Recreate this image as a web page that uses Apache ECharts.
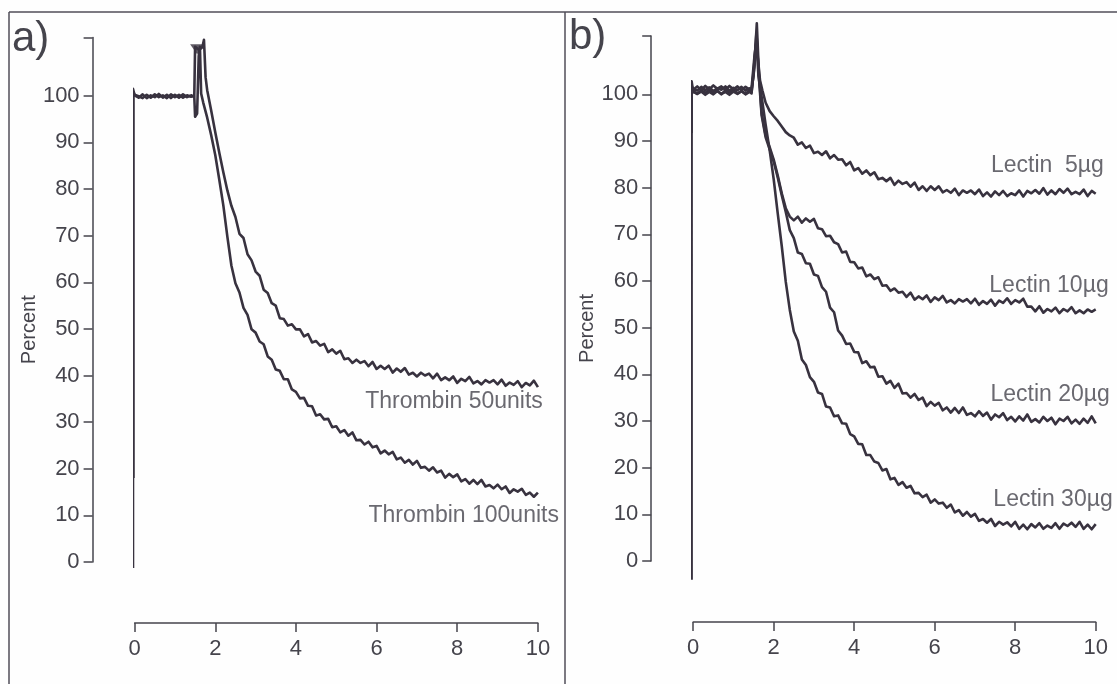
<!DOCTYPE html>
<html><head><meta charset="utf-8">
<script src="https://cdn.jsdelivr.net/npm/echarts@6/dist/echarts.min.js"></script>
<style>html,body{margin:0;padding:0;background:#fefefe}#c{width:1117px;height:684px}</style>
</head><body><div id="c"></div>
<script>
// ---- axis ticks ----
const xTickInterval = 2;
const yTickLabels = [0,10,20,30,40,50,60,70,80,90,100];
const yTickMarks = [0,10,20,30,40,50,60,70,80,90,100,112.5];

// ---- shared sampling times for the decay tails (minutes) ----
const timeTail = [2.5,2.6,2.7,2.8,2.9,3.0,3.1,3.2,3.3,3.4,3.5,3.6,3.7,3.8,3.9,4.0,4.1,4.2,4.3,4.4,4.5,4.6,4.7,4.8,4.9,5.0,5.1,5.2,5.3,5.4,5.5,5.6,5.7,5.8,5.9,6.0,6.1,6.2,6.3,6.4,6.5,6.6,6.7,6.8,6.9,7.0,7.1,7.2,7.3,7.4,7.5,7.6,7.7,7.8,7.9,8.0,8.1,8.2,8.3,8.4,8.5,8.6,8.7,8.8,8.9,9.0,9.1,9.2,9.3,9.4,9.5,9.6,9.7,9.8,9.9,10.0];

// ---- panel a) ----
const thrombin50Head = [[-0.03,18.0],[-0.03,100.8],[0.0,100.2],[0.1,99.9],[0.2,99.5],[0.3,100.2],[0.4,99.6],[0.5,100.3],[0.6,99.7],[0.7,100.1],[0.8,99.5],[0.9,100.3],[1.0,99.7],[1.1,100.2],[1.2,99.6],[1.3,100.1],[1.4,99.8],[1.48,100.0],[1.5,110.5],[1.6,109.8],[1.68,110.4],[1.72,112.0],[1.76,104.0],[1.8,101.2],[1.9,96.8],[2.0,92.2],[2.1,87.8],[2.2,83.6],[2.3,79.7],[2.4,76.4]];
const thrombin50Tail = [74.0,70.4,69.5,66.0,64.7,62.3,61.4,58.4,57.7,55.5,
 55.0,52.3,52.1,50.7,51.0,49.9,49.9,48.4,48.9,47.1,
 47.4,46.4,46.8,45.0,45.6,44.7,45.3,43.5,43.7,42.7,
 43.4,42.7,43.1,42.0,42.9,41.4,42.1,41.4,42.1,40.6,
 41.5,40.8,41.6,40.2,40.6,39.8,40.6,40.0,40.4,39.4,
 40.4,39.0,39.6,39.0,39.8,38.4,39.3,38.8,39.7,38.3,
 38.8,38.1,39.0,38.5,39.0,38.1,39.1,37.8,38.5,38.0,
 38.8,37.5,38.4,37.9,38.9,37.5];
const thrombin100Head = [[-0.04,-1.3],[-0.04,101.5],[0.0,100.1],[0.1,99.6],[0.2,100.3],[0.3,99.5],[0.4,100.1],[0.5,99.7],[0.6,100.4],[0.7,99.6],[0.8,100.2],[0.9,99.5],[1.0,100.2],[1.1,99.6],[1.2,100.3],[1.3,99.7],[1.4,100.1],[1.48,99.8],[1.5,95.5],[1.55,96.2],[1.59,108.5],[1.62,110.5],[1.65,100.5],[1.7,98.6],[1.8,95.3],[1.9,91.5],[2.0,87.3],[2.1,82.0],[2.2,76.5],[2.3,69.8],[2.4,63.6]];
const thrombin100Tail = [59.8,57.8,54.5,53.0,49.9,49.2,47.3,46.7,44.1,43.4,
 41.3,41.0,39.2,39.2,37.0,36.5,35.1,35.2,33.5,33.4,
 31.4,31.7,30.6,30.7,28.9,29.1,27.8,28.3,27.1,27.8,
 26.1,26.2,25.2,25.8,24.6,24.9,23.3,23.9,23.1,23.6,
 22.0,22.4,21.3,21.9,20.9,21.7,20.2,20.4,19.6,20.3,
 19.2,19.6,18.1,18.9,18.2,18.8,17.3,17.8,16.8,17.6,
 16.7,17.6,16.2,16.5,15.8,16.6,15.6,16.2,14.8,15.6,
 15.1,15.7,14.4,14.9,14.0,14.9];
const injectionMark = [[1.55,110.0]];
const labelsA = [[7.92,34.3,'Thrombin 50units'],[8.16,9.9,'Thrombin 100units']];

// ---- panel b) ----
const lectin5Head = [[-0.03,100.6],[0.0,101.2],[0.1,100.8],[0.2,101.6],[0.3,100.9],[0.4,101.5],[0.5,100.7],[0.6,101.3],[0.7,101.0],[0.8,101.7],[0.9,100.8],[1.0,101.4],[1.1,100.9],[1.2,101.6],[1.3,100.8],[1.4,101.3],[1.45,101.0],[1.5,104.0],[1.56,110.5],[1.61,107.5],[1.66,103.0],[1.72,100.8],[1.8,98.2],[1.9,96.4],[2.0,95.3],[2.1,94.3],[2.2,93.1],[2.3,91.9],[2.4,91.2]];
const lectin5Tail = [90.7,89.2,89.7,88.5,89.0,87.4,87.7,87.0,87.8,86.3,
 87.0,86.0,86.1,84.8,85.5,83.7,84.2,83.0,83.7,82.7,
 83.3,81.8,82.1,81.4,82.1,80.6,81.5,80.8,81.2,80.2,
 81.1,79.5,80.3,79.3,80.3,79.5,80.3,79.0,79.5,78.9,
 79.8,78.4,79.4,78.9,79.4,78.6,79.6,78.2,79.0,78.1,
 79.2,78.4,79.3,78.2,78.8,78.4,79.4,78.1,79.3,78.8,
 79.5,78.7,79.9,78.5,79.4,78.6,79.7,78.9,79.8,78.6,
 79.1,78.6,79.6,78.2,79.3,78.7];
const lectin10Head = [[-0.04,-4.0],[-0.04,102.8],[0.0,100.6],[0.1,100.1],[0.2,100.9],[0.3,100.3],[0.4,101.0],[0.5,100.2],[0.6,100.8],[0.7,100.0],[0.8,100.9],[0.9,100.4],[1.0,101.0],[1.1,100.2],[1.2,100.7],[1.3,100.1],[1.4,100.8],[1.45,100.5],[1.52,106.0],[1.58,115.2],[1.63,105.0],[1.7,96.0],[1.8,91.2],[1.9,88.7],[2.0,86.0],[2.1,82.6],[2.2,78.8],[2.3,75.6],[2.4,73.8]];
const lectin10Tail = [73.0,73.8,72.5,73.4,72.7,73.3,71.3,71.1,69.6,69.7,
 68.3,67.9,66.1,66.3,64.1,64.0,62.7,62.9,61.0,61.4,
 60.4,60.8,59.0,59.1,57.9,58.4,57.5,57.7,56.6,57.5,
 56.0,56.7,56.1,56.9,55.5,56.5,55.9,56.8,55.4,55.9,
 55.2,56.1,55.6,56.1,55.2,56.2,54.9,55.7,55.1,56.0,
 54.7,55.8,55.3,56.3,55.1,55.9,55.4,56.2,54.5,54.5,
 53.5,54.6,53.2,54.0,53.5,54.3,53.1,54.0,53.5,54.4,
 53.1,53.7,53.1,53.9,53.4,53.9];
const lectin20Head = [[-0.04,91.7],[-0.04,99.8],[-0.02,101.5],[0.0,101.0],[0.1,101.7],[0.2,100.9],[0.3,101.8],[0.4,101.1],[0.5,101.9],[0.6,101.2],[0.7,101.7],[0.8,101.0],[0.9,101.8],[1.0,101.1],[1.1,101.7],[1.2,100.9],[1.3,101.6],[1.4,101.0],[1.45,101.3],[1.52,108.0],[1.58,112.0],[1.63,104.0],[1.7,95.5],[1.8,90.8],[1.9,88.2],[2.0,85.6],[2.1,82.2],[2.2,78.4],[2.3,74.8],[2.4,70.9]];
const lectin20Tail = [69.2,66.1,65.8,63.8,63.7,61.4,61.1,58.7,57.7,54.3,
 53.3,49.4,48.3,46.5,46.6,44.8,44.7,42.4,42.8,41.5,
 41.6,39.5,39.6,38.0,38.6,37.1,38.0,35.9,36.0,35.0,
 35.8,34.5,35.0,33.2,34.1,33.3,33.9,32.3,32.9,31.8,
 32.8,31.7,32.9,31.3,31.7,31.0,32.1,31.1,31.8,30.3,
 31.4,30.8,31.7,30.2,30.9,29.9,31.0,30.1,31.4,29.8,
 30.4,29.7,30.9,30.0,30.7,29.3,30.5,30.0,30.9,29.5,
 30.3,29.4,30.5,29.6,31.0,29.5];
const lectin30Head = [[-0.03,100.2],[0.0,100.7],[0.1,100.1],[0.2,100.6],[0.3,99.9],[0.4,100.5],[0.5,100.0],[0.6,100.7],[0.7,100.1],[0.8,100.5],[0.9,99.9],[1.0,100.6],[1.1,100.1],[1.2,100.7],[1.3,100.0],[1.4,100.5],[1.45,100.2],[1.52,107.0],[1.57,113.0],[1.62,104.0],[1.66,101.6],[1.7,99.5],[1.8,93.5],[1.9,88.0],[2.0,81.8],[2.1,74.5],[2.2,67.5],[2.3,59.8],[2.4,53.8]];
const lectin30Tail = [49.2,47.2,43.2,42.0,39.4,38.4,36.1,35.8,33.1,32.9,
 31.0,31.2,29.5,29.4,27.2,26.7,25.1,25.0,22.7,22.7,
 21.3,21.0,19.4,19.7,17.5,17.8,16.3,16.9,15.7,16.1,
 14.5,14.6,13.7,14.2,12.5,13.2,12.3,12.5,11.4,12.1,
 10.4,10.9,9.7,10.5,9.5,10.1,8.6,9.0,8.2,9.0,
 7.5,8.4,7.8,8.3,7.4,8.4,6.9,7.8,6.8,7.9,
 7.2,8.1,6.9,7.6,7.1,8.1,6.9,8.0,7.5,8.2,
 7.3,8.4,6.9,7.8,6.8,7.9];
const labelsB = [[8.80,84.7,'Lectin  5µg'],[8.84,59.1,'Lectin 10µg'],[8.87,35.6,'Lectin 20µg'],[8.94,13.1,'Lectin 30µg']];

// ---- drawing ----
const FONT = '"Liberation Sans", Arial, sans-serif';
const INK = '#38323f';
const TXT = '#45444c';
const FRAME = '#504e58';

function build(head, tail) { return head.concat(timeTail.map((t, i) => [t, tail[i]])); }

function xAxisCfg(gi) {
  return {
    gridIndex: gi, type: 'value', min: 0, max: 10, interval: xTickInterval, offset: 61,
    axisLine: { onZero: false, lineStyle: { color: TXT, width: 1.5 } },
    axisTick: { length: 9, lineStyle: { color: TXT, width: 1.5 } },
    axisLabel: { fontSize: 22, color: TXT, fontFamily: FONT, margin: 15 },
    splitLine: { show: false }
  };
}
function yAxisCfg(gi) {
  return {
    gridIndex: gi, type: 'value', min: 0, max: 112.5, interval: 10, offset: 42,
    name: 'Percent', nameLocation: 'middle', nameRotate: 90, nameGap: 49,
    nameTextStyle: { fontSize: 20, color: TXT, fontFamily: FONT, padding: [0, 60, 0, 0] },
    axisLine: { show: true, onZero: false, lineStyle: { color: TXT, width: 1.5 } },
    axisTick: { show: true, length: 9, customValues: yTickMarks, lineStyle: { color: TXT, width: 1.5 } },
    axisLabel: { fontSize: 22, color: TXT, fontFamily: FONT, margin: 13, customValues: yTickLabels },
    splitLine: { show: false }
  };
}
function trace(gi, head, tail) {
  return {
    type: 'line', xAxisIndex: gi, yAxisIndex: gi, data: build(head, tail),
    symbol: 'none', showSymbol: false, clip: false, silent: true,
    lineStyle: { color: INK, width: 2.6, join: 'round' }
  };
}
function labels(gi, data) {
  return {
    type: 'scatter', xAxisIndex: gi, yAxisIndex: gi, data: data, symbolSize: 1, silent: true, clip: false,
    itemStyle: { color: 'rgba(0,0,0,0)' },
    label: { show: true, position: 'inside', formatter: p => p.value[2], fontSize: 23, color: TXT, fontFamily: FONT }
  };
}

const chart = echarts.init(document.getElementById('c'));
chart.setOption({
  animation: false,
  backgroundColor: '#fefefe',
  grid: [
    { left: 134.6, top: 37.5, width: 403.3, height: 524.5 },
    { left: 693.2, top: 36, width: 402.5, height: 525 }
  ],
  xAxis: [xAxisCfg(0), xAxisCfg(1)],
  yAxis: [yAxisCfg(0), yAxisCfg(1)],
  graphic: [
    { type: 'line', shape: { x1: 9, y1: 12, x2: 1117, y2: 12 }, style: { stroke: FRAME, lineWidth: 1.5 } },
    { type: 'line', shape: { x1: 9, y1: 12, x2: 9, y2: 684 }, style: { stroke: FRAME, lineWidth: 1.5 } },
    { type: 'line', shape: { x1: 565, y1: 12, x2: 565, y2: 684 }, style: { stroke: FRAME, lineWidth: 1.5 } },
    { type: 'text', left: 12, top: 18, style: { text: 'a)', font: '42px "Liberation Sans", Arial, sans-serif', fill: TXT } },
    { type: 'text', left: 569, top: 16, style: { text: 'b)', font: '42px "Liberation Sans", Arial, sans-serif', fill: TXT } }
  ],
  series: [
    trace(0, thrombin50Head, thrombin50Tail),
    trace(0, thrombin100Head, thrombin100Tail),
    { type: 'scatter', xAxisIndex: 0, yAxisIndex: 0, data: injectionMark, symbol: 'triangle', symbolRotate: 180,
      symbolSize: [14, 10], itemStyle: { color: INK }, silent: true, clip: false },
    labels(0, labelsA),
    trace(1, lectin5Head, lectin5Tail),
    trace(1, lectin10Head, lectin10Tail),
    trace(1, lectin20Head, lectin20Tail),
    trace(1, lectin30Head, lectin30Tail),
    labels(1, labelsB)
  ]
});
</script>
</body></html>
